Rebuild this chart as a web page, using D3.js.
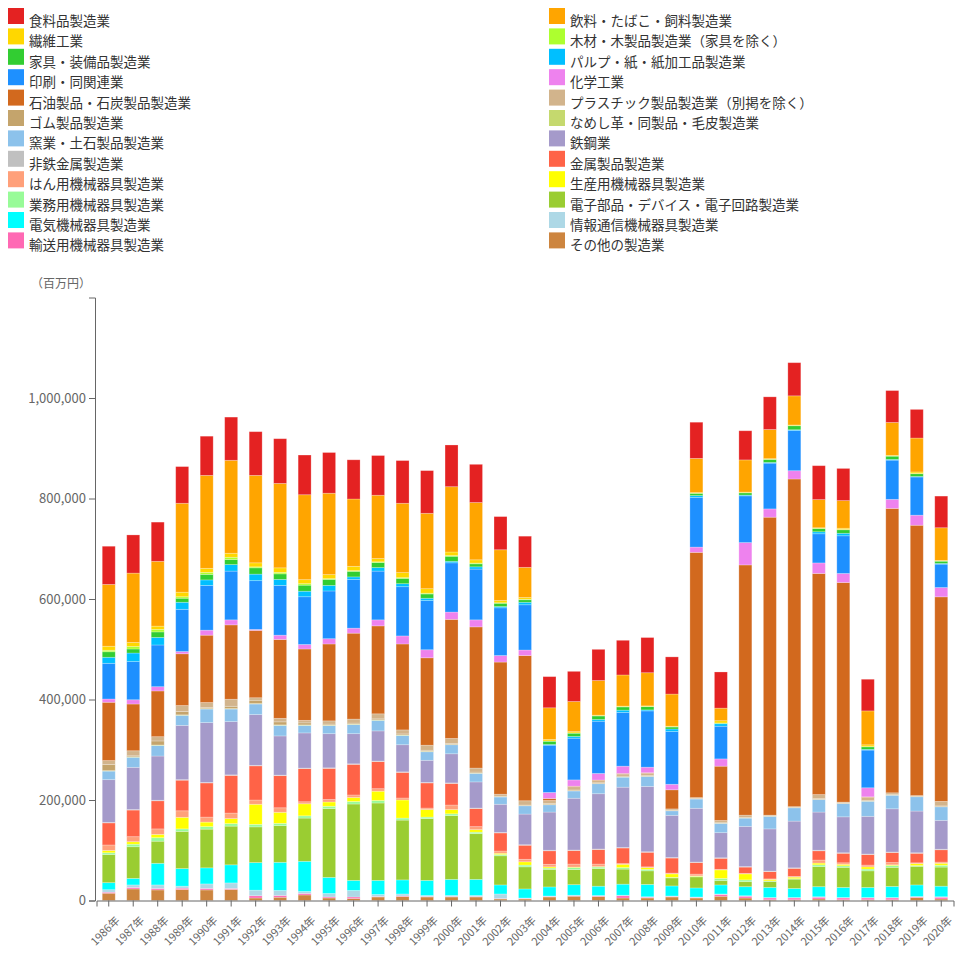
<!DOCTYPE html>
<html><head><meta charset="utf-8">
<script src="https://cdn.jsdelivr.net/npm/d3@7"></script>
<style>
body{margin:0;background:#fff}
svg{display:block}
text{font-family:"Noto Sans CJK JP","Noto Sans",sans-serif}
</style>
</head><body>
<svg id="c" width="955" height="961"></svg>
<script>
// ---- categories ----
const years = ["1986年","1987年","1988年","1989年","1990年","1991年","1992年","1993年","1994年","1995年",
  "1996年","1997年","1998年","1999年","2000年","2001年","2002年","2003年","2004年","2005年",
  "2006年","2007年","2008年","2009年","2010年","2011年","2012年","2013年","2014年","2015年",
  "2016年","2017年","2018年","2019年","2020年"];

// ---- series values (百万円), 1986..2020 ----
const food        = [76000,76000,78000,73000,78000,86000,87000,89000,79000,81000, 78000,79000,85000,85000,83000,76000,66000,62000,62000,60000, 62000,69000,70000,74000,72000,72000,58000,65000,66000,67500, 64000,63000,63500,57000,63000];
const beverage    = [123000,138000,129000,177000,185000,185000,174000,168000,169000,162000, 134000,126000,138000,150000,130000,114000,101000,60000,63000,60000, 69000,62000,66000,64000,68000,25000,64000,58000,58000,56000, 55000,67500,65500,67500,65000];
const textile     = [8000,8000,6500,9000,8000,8000,8000,9000,8000,8000, 8500,6500,10000,9000,7000,6500,4500,3500,3000,2500, 1000,1000,1000,1000,1000,4500,1000,1000,1000,1000, 2500,3500,1000,3000,1000];
const wood        = [3000,5000,5000,3000,4000,4500,2000,3000,3000,1500, 1500,1500,1500,1500,1500,1500,1000,1000,500,500, 500,500,500,500,500,500,500,500,500,500, 500,500,500,500,500];
const furniture   = [11000,8000,11000,8000,11000,10000,12500,11000,12000,12000, 11000,10000,10500,8500,10000,6000,6500,5000,6500,6500, 7000,6500,6500,4000,4500,1000,4500,6000,8000,6500, 7000,5000,6500,5500,4500];
const pulp        = [12000,17000,15000,14000,11000,13000,13000,12000,11000,11000, 5000,7000,6000,4500,3000,4500,2500,5000,1500,3500, 3500,4500,2000,5000,3500,5000,1500,1500,1500,4000, 5000,1500,1500,1000,1500];
const printing    = [71000,76000,83000,84000,89000,97000,97000,99000,95000,95000, 97000,97000,98000,98000,98000,101000,95000,90000,94000,83000, 104000,107000,112000,105000,99000,65000,93000,91000,80000,58000, 75000,75000,78000,76000,46500];
const chemical    = [6500,8500,8500,4500,10000,10000,2000,8500,9000,10500, 10000,12000,16000,16000,14500,14000,13000,11000,12000,12500, 13000,14500,11000,11000,10500,14500,44500,16500,16500,21000, 18000,18000,18000,20000,18500];
const petroleum   = [116000,93000,91000,103000,134000,148000,134000,157000,142000,153000, 171000,175000,171000,174000,237000,281000,263000,289000,4000,1000, 1000,1000,1000,38000,488000,108000,498000,593000,652000,440000, 437000,1000,566000,538000,407000];
const plastic     = [8000,10000,8500,12000,10000,14000,5000,7000,5000,6500, 8000,10000,8000,10000,10000,8000,4000,8500,6000,6500, 4500,4500,4500,2500,1500,4500,4500,1000,1000,8000, 1500,6000,3500,1000,9000];
const rubber      = [12000,2000,8000,6500,2000,4500,6500,6000,4000,2000, 2000,2000,2000,2000,2000,2000,1000,1000,2000,1500, 1500,1500,1500,1000,1000,1000,1000,1000,1000,1500, 1000,1500,1000,1000,1500];
const leather     = [1000,1000,1000,1000,1000,1000,1000,1000,1000,1000, 1000,1000,1000,1000,500,500,500,500,500,500, 300,300,300,300,300,300,300,300,300,300, 300,300,300,300,300];
const ceramics    = [17000,20000,21000,20000,27000,25000,21000,21000,15000,16000, 18000,21000,18500,17000,18000,17000,14500,16500,14500,14500, 20000,20000,20000,9000,18500,18500,16500,25000,26500,25000, 26500,30000,27000,28500,27000];
const steel       = [85000,84000,88000,108000,119000,106000,101000,78000,70000,68000, 60000,60000,54000,44000,58000,52000,56000,61000,76000,103000, 110000,120000,130000,84000,107000,50000,80000,84000,93000,76000, 71500,75000,86000,83000,57500];
const nonferrous  = [1000,1000,1000,1000,1000,1000,1000,1000,1000,1000, 1000,1000,1000,1000,1000,1000,1000,1000,1000,1000, 1000,1000,1000,1000,1000,1000,1000,1000,1000,1000, 1000,1000,1000,1000,1000];
const metal       = [44000,53000,56000,61000,68000,75000,68000,64000,66000,62000, 61000,54000,51000,50000,43000,36000,36000,28000,27000,27000, 29000,31000,29000,30000,23000,22000,12500,14500,16000,18500, 19000,21000,20000,19000,24500];
const generalMach = [11000,10000,11000,13000,10000,11000,8500,9000,4000,5000, 5000,5000,4000,3000,9000,6000,4500,5000,5000,6000, 5000,1500,1500,1500,3500,1000,1000,1000,1500,6000, 3000,3500,4500,1500,2500];
const prodMach    = [4500,5000,6500,23000,9000,10000,40000,22000,24000,8500, 8000,18500,36000,15000,8500,5000,2500,6500,2500,1000, 1000,6500,3500,7000,1000,17000,12000,3000,3000,3500, 3000,4500,1500,4000,4000];
const bizMach     = [3500,5000,7000,5000,5000,5000,5000,4500,4500,4500, 5000,5000,4000,3000,3500,3000,2500,3500,2500,4000, 3000,3000,3000,1000,1000,4500,3500,1000,1000,3500, 3000,3500,3500,1500,3500];
const electronics = [56000,63000,44000,74000,77000,77000,71000,73000,86000,137000, 152000,154000,119000,123000,127000,91000,58000,44000,35000,30000, 35000,30000,27000,16000,22000,8500,10000,12000,18500,40000, 40000,33000,38000,37000,38000];
const electrical  = [14000,13000,43000,35000,32000,36000,55000,56000,60000,32000, 20000,28000,28000,30000,32000,32000,18000,18000,18000,21000, 18500,22000,24500,20000,18000,18000,18000,20000,18000,20000, 20000,20000,22000,23000,21000];
const infoComm    = [5000,5000,7000,4000,9000,11000,11000,10000,4000,7000, 13000,4000,4000,2000,2000,2000,9000,1000,1000,1000, 1000,1000,1000,1000,1000,1000,1000,1000,1000,1000, 1000,1000,1000,1000,1000];
const transport   = [2000,3000,3000,2500,3000,2000,4500,3500,3000,2000, 3000,1000,1000,1000,1000,1000,1000,1000,1000,1000, 1000,4500,1500,1000,1000,3500,3500,3500,3500,3500, 3500,3500,3500,1000,3500];
const other       = [14500,23000,21000,22000,21000,22000,5000,6500,11000,5000, 4000,7000,8000,7000,7000,7000,3000,3000,7000,8500, 8000,5000,5000,7000,5000,8500,5000,1500,1500,3000, 1500,1500,1500,6000,3000];

// ---- series names / colours in legend order ----
const seriesNames = ["食料品製造業","飲料・たばこ・飼料製造業","繊維工業","木材・木製品製造業（家具を除く）",
  "家具・装備品製造業","パルプ・紙・紙加工品製造業","印刷・同関連業","化学工業",
  "石油製品・石炭製品製造業","プラスチック製品製造業（別掲を除く）","ゴム製品製造業","なめし革・同製品・毛皮製造業",
  "窯業・土石製品製造業","鉄鋼業","非鉄金属製造業","金属製品製造業",
  "はん用機械器具製造業","生産用機械器具製造業","業務用機械器具製造業","電子部品・デバイス・電子回路製造業",
  "電気機械器具製造業","情報通信機械器具製造業","輸送用機械器具製造業","その他の製造業"];
const seriesColors = ["#E42222","#FFA500","#FFD700","#ADFF2F",
  "#32CD32","#00BFFF","#1E90FF","#EE82EE",
  "#D2691E","#D2B48C","#C4A46C","#C5D96E",
  "#8CC2EB","#A59ACA","#C0C0C0","#FF6347",
  "#FFA07A","#FFFF00","#98FB98","#9ACD32",
  "#00FFFF","#ADD8E6","#FF69B4","#CD853F"];
const seriesValues = [food,beverage,textile,wood,furniture,pulp,printing,chemical,
  petroleum,plastic,rubber,leather,ceramics,steel,nonferrous,metal,
  generalMach,prodMach,bizMach,electronics,electrical,infoComm,transport,other];

const yTicks = [0,200000,400000,600000,800000,1000000];
const yUnit = "（百万円）";

seriesValues.forEach((a,k)=>{ if(a.length!==years.length) throw new Error("length "+seriesNames[k]+" "+a.length); });

const svg = d3.select("#c");

// ---- legend ----
const leg = svg.append("g");
seriesNames.forEach((n,k)=>{
  const col = k%2, row = Math.floor(k/2);
  const lx = col===0 ? 8 : 549, ly = 8 + row*20.4;
  leg.append("rect").attr("x",lx).attr("y",ly).attr("width",16).attr("height",16).attr("fill",seriesColors[k]);
  leg.append("text").attr("x",lx+21).attr("y",ly+18).attr("font-size",13.5).attr("fill","#333").text(n);
});

// ---- scales ----
const x = d3.scaleBand().domain(years).range([96.5,953.5]).paddingInner(0.47).paddingOuter(0.235);
const y = d3.scaleLinear().domain([0,1200000]).range([900.5,297.5]);

const table = years.map((yr,i)=>{ const o={year:yr}; seriesNames.forEach((n,k)=>o[n]=seriesValues[k][i]); return o; });
const keys = seriesNames.slice().reverse();
const stacked = d3.stack().keys(keys)(table);
const colorOf = d3.scaleOrdinal().domain(seriesNames).range(seriesColors);

const bars = svg.append("g");
stacked.forEach(layer=>{
  bars.append("g").attr("fill",colorOf(layer.key))
    .selectAll("rect").data(layer).join("rect")
    .attr("x",d=>x(d.data.year)).attr("width",x.bandwidth())
    .attr("y",d=>y(d[1])).attr("height",d=>Math.max(0,y(d[0])-y(d[1])))
    .attr("stroke","#fff").attr("stroke-opacity",0.3).attr("stroke-width",0.8);
});

// ---- axes ----
const ya = svg.append("g").attr("transform","translate(95,0)")
  .call(d3.axisLeft(y).tickValues(yTicks).tickFormat(d3.format(",")).tickSize(6));
ya.selectAll("path,line").attr("stroke","#666");
ya.selectAll("text").attr("font-size",13).attr("fill","#666").attr("font-family","DejaVu Sans");

const xa = svg.append("g").attr("transform","translate(0,900.5)")
  .call(d3.axisBottom(x).tickSize(6));
xa.selectAll("path,line").attr("stroke","#666");
xa.selectAll("text").attr("font-size",11).attr("fill","#666")
  .attr("text-anchor","end").attr("dy","0.3em").attr("dx","0")
  .attr("transform","translate(3,12) rotate(-45)");

svg.append("text").attr("x",31).attr("y",288).attr("font-size",12).attr("fill","#666").text(yUnit);
</script>
</body></html>
